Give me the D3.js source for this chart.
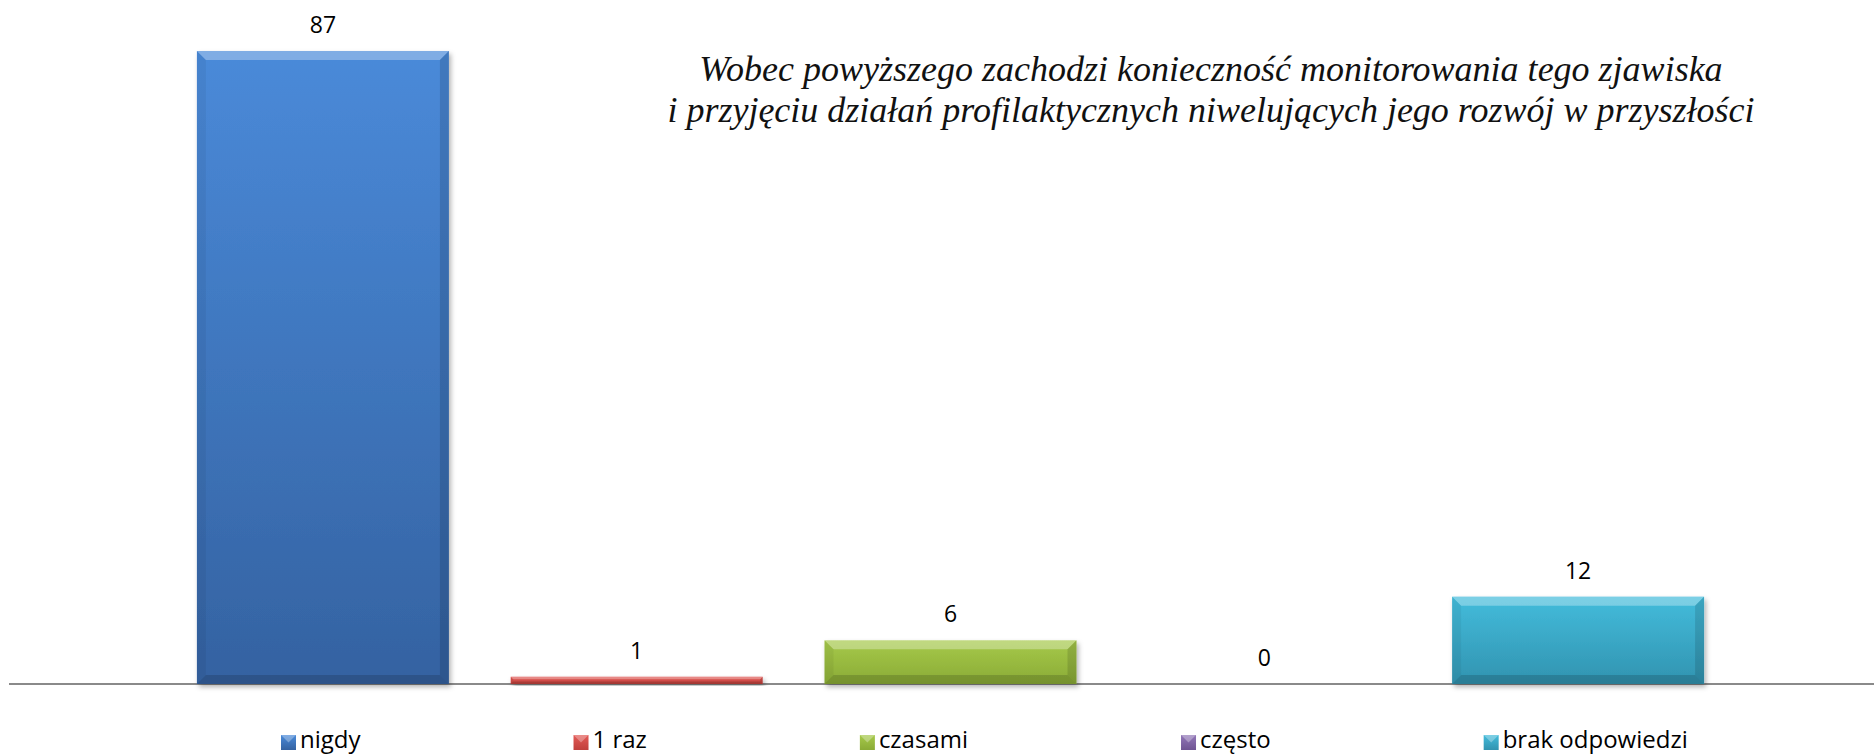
<!DOCTYPE html>
<html lang="pl">
<head>
    <meta charset="UTF-8">
    <title>Wykres</title>
    <style>
        body {
            margin: 0;
            padding: 0;
            background-color: #fff;
            overflow: hidden;
        }
        svg {
            display: block;
        }
        .value-label {
            font-family: "Open Sans", sans-serif;
            font-size: 23px;
            fill: #000;
        }
        .legend text {
            font-family: "Open Sans", sans-serif;
            font-size: 24px;
            fill: #000;
        }
        .note {
            font-family: "Liberation Serif", serif;
            font-style: italic;
            font-size: 36px;
            fill: #111;
        }
    </style>
</head>
<body>
    <svg id="chart" width="1874" height="754"></svg>

    <script src="https://d3js.org/d3.v7.min.js"></script>
    <script>
        // dane z wykresu
        const categories = ['nigdy', '1 raz', 'czasami', 'często', 'brak odpowiedzi'];
        const values = [87, 1, 6, 0, 12];
        const topColors = ['#4a8ad9', '#e35a56', '#a6c94a', '#9277b8', '#43bcdb'];
        const bottomColors = ['#3462a1', '#c0403c', '#8aab36', '#6f5493', '#3193b0'];
        const noteLines = [
            'Wobec powyższego zachodzi konieczność monitorowania tego zjawiska',
            'i przyjęciu działań profilaktycznych niwelujących jego rozwój w przyszłości'
        ];

        const svg = d3.select('#chart'),
            width = +svg.attr('width'),
            baseY = 684;

        const x = d3.scaleBand()
            .domain(categories)
            .range([166, 1735])
            .paddingInner(0.197)
            .paddingOuter(0.0985);

        const y = d3.scaleLinear()
            .domain([0, 87])
            .range([baseY, 51]);

        const defs = svg.append('defs');

        // gradienty dla słupków
        categories.forEach((c, i) => {
            const g = defs.append('linearGradient')
                .attr('id', 'grad' + i)
                .attr('x1', 0).attr('y1', 0).attr('x2', 0).attr('y2', 1);
            g.append('stop').attr('offset', '0%').attr('stop-color', topColors[i]);
            g.append('stop').attr('offset', '100%').attr('stop-color', bottomColors[i]);
        });

        const shadow = defs.append('filter')
            .attr('id', 'shadow')
            .attr('x', '-10%').attr('y', '-10%')
            .attr('width', '130%').attr('height', '130%');
        shadow.append('feDropShadow')
            .attr('dx', 2).attr('dy', 3)
            .attr('stdDeviation', 2.5)
            .attr('flood-color', '#000')
            .attr('flood-opacity', 0.3);

        // tekst u góry
        svg.selectAll('.note')
            .data(noteLines)
            .enter().append('text')
            .attr('class', 'note')
            .attr('x', 1211)
            .attr('y', (d, i) => 81 + i * 41)
            .attr('text-anchor', 'middle')
            .text(d => d);

        // oś
        svg.append('line')
            .attr('x1', 9)
            .attr('x2', width)
            .attr('y1', baseY)
            .attr('y2', baseY)
            .attr('stroke', '#8a8a8a')
            .attr('stroke-width', 2);

        // słupki z efektem skosu
        const bars = svg.selectAll('.bar')
            .data(values.map((v, i) => ({ cat: categories[i], value: v, i: i })))
            .enter().append('g')
            .attr('class', 'bar')
            .filter(d => d.value > 0);

        bars.each(function(d) {
            const g = d3.select(this);
            const x0 = x(d.cat),
                x1 = x0 + x.bandwidth(),
                y0 = y(d.value),
                y1 = baseY,
                b = Math.min(9, (y1 - y0) / 3);

            g.append('rect')
                .attr('x', x0)
                .attr('y', y0)
                .attr('width', x1 - x0)
                .attr('height', y1 - y0)
                .attr('fill', 'url(#grad' + d.i + ')')
                .attr('filter', 'url(#shadow)');

            // górna krawędź
            g.append('polygon')
                .attr('points', [[x0, y0], [x1, y0], [x1 - b, y0 + b], [x0 + b, y0 + b]].join(' '))
                .attr('fill', '#fff')
                .attr('fill-opacity', 0.3);
            // lewa krawędź
            g.append('polygon')
                .attr('points', [[x0, y0], [x0 + b, y0 + b], [x0 + b, y1 - b], [x0, y1]].join(' '))
                .attr('fill', '#000')
                .attr('fill-opacity', 0.05);
            // prawa krawędź
            g.append('polygon')
                .attr('points', [[x1, y0], [x1 - b, y0 + b], [x1 - b, y1 - b], [x1, y1]].join(' '))
                .attr('fill', '#000')
                .attr('fill-opacity', 0.12);
            // dolna krawędź
            g.append('polygon')
                .attr('points', [[x0, y1], [x0 + b, y1 - b], [x1 - b, y1 - b], [x1, y1]].join(' '))
                .attr('fill', '#000')
                .attr('fill-opacity', 0.15);
        });

        // etykiety wartości
        svg.selectAll('.value-label')
            .data(values)
            .enter().append('text')
            .attr('class', 'value-label')
            .attr('x', (d, i) => x(categories[i]) + x.bandwidth() / 2)
            .attr('y', d => y(d) - 18)
            .attr('text-anchor', 'middle')
            .text(d => d);

        // legenda
        const legend = svg.append('g').attr('class', 'legend');
        let lx = 281;
        categories.forEach((c, i) => {
            const item = legend.append('g').attr('transform', `translate(${lx},0)`);
            item.append('rect')
                .attr('x', 0)
                .attr('y', 735)
                .attr('width', 15)
                .attr('height', 15)
                .attr('fill', 'url(#grad' + i + ')');
            item.append('polygon')
                .attr('points', '0,735 15,735 7.5,742.5')
                .attr('fill', '#fff')
                .attr('fill-opacity', 0.3);
            const t = item.append('text')
                .attr('x', 19)
                .attr('y', 748)
                .text(c);
            lx += 19 + t.node().getComputedTextLength() + 213;
        });
    </script>
</body>
</html>
